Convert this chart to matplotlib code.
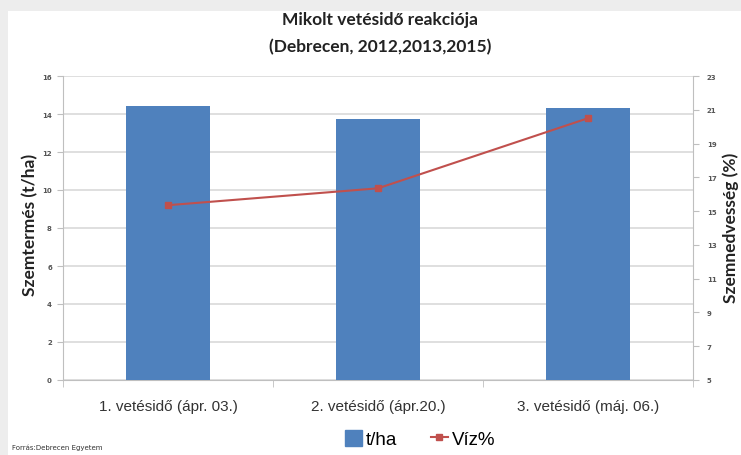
import matplotlib
matplotlib.use("Agg")
import matplotlib.pyplot as plt
from matplotlib.patches import Rectangle
from matplotlib.lines import Line2D
import numpy as np

categories = ["1. vetésidő (ápr. 03.)", "2. vetésidő (ápr.20.)", "3. vetésidő (máj. 06.)"]
yield_tha = [14.4, 13.75, 14.3]
moisture_pct = [15.35, 16.35, 20.5]
left_ticks = [0, 2, 4, 6, 8, 10, 12, 14, 16]
right_ticks = [5, 7, 9, 11, 13, 15, 17, 19, 21, 23]

BAR = "#4F81BD"
LINE = "#C0504D"
GRID = "#D9D9D9"
AX = "#BFBFBF"

fig = plt.figure(figsize=(7.41, 4.56), dpi=100)
fig.patch.set_facecolor("#EDEDED")
fig.patches.append(Rectangle((8/741, 0), 1, 1 - 12/456, transform=fig.transFigure,
                             facecolor="white", edgecolor="none", zorder=-10))

ax = fig.add_axes([63/741, 75/456, 630/741, 304/456])
x = np.arange(len(categories))
ax.bar(x, yield_tha, width=0.4, color=BAR, zorder=3)
ax.set_xlim(-0.5, 2.5)
ax.set_ylim(0, 16)
ax.set_yticks(left_ticks)
ax.set_yticklabels([str(t) for t in left_ticks], fontsize=5, color="#555555", fontweight="bold")
ax.yaxis.grid(True, color=GRID, linewidth=1.2, zorder=0)
ax.set_axisbelow(True)
for s in ["top", "right"]:
    ax.spines[s].set_visible(False)
ax.spines["left"].set_color(AX)
ax.spines["bottom"].set_color(AX)
ax.tick_params(axis="y", length=4, color=AX, pad=4)
ax.set_xticks(x)
ax.set_xticklabels(categories, fontsize=11, family="Liberation Sans", color="#333333")
ax.tick_params(axis="x", length=0, pad=14)
ax.set_xticks([-0.5, 0.5, 1.5, 2.5], minor=True)
ax.tick_params(axis="x", which="minor", length=5, color=AX)

ax2 = ax.twinx()
ax2.plot(x, moisture_pct, color=LINE, marker="s", markersize=5, linewidth=1.5, zorder=4)
ax2.set_ylim(5, 23)
ax2.set_yticks(right_ticks)
ax2.set_yticklabels([str(t) for t in right_ticks], fontsize=5, color="#555555", fontweight="bold")
for s in ["top", "left", "bottom"]:
    ax2.spines[s].set_visible(False)
ax2.spines["right"].set_color(AX)
ax2.tick_params(axis="y", length=4, color=AX, pad=6)

fig.text(30/741, 1 - 225/456, "Szemtermés (t/ha)", rotation=90, ha="center", va="center",
         fontsize=12.5, fontweight="bold", family="Lato", color="#222222")
fig.text(731/741, 1 - 228/456, "Szemnedvesség (%)", rotation=90, ha="center", va="center",
         fontsize=12.5, fontweight="bold", family="Lato", color="#222222")

fig.text(380/741, 1 - 20/456, "Mikolt vetésidő reakciója", ha="center", va="center",
         fontsize=12.5, fontweight="bold", family="Lato", color="#222222")
fig.text(380/741, 1 - 47/456, "(Debrecen, 2012,2013,2015)", ha="center", va="center",
         fontsize=12.5, fontweight="bold", family="Lato", color="#222222")

handles = [Rectangle((0, 0), 1, 1, color=BAR),
           Line2D([0], [0], color=LINE, marker="s", markersize=4, linewidth=1.5)]
fig.legend(handles, ["t/ha", "Víz%"], loc="center", bbox_to_anchor=(420/741, 1 - 440/456),
           ncol=2, frameon=False, handlelength=0.9, handleheight=1.0, handletextpad=0.2,
           columnspacing=1.8, prop={"family": "Liberation Sans", "size": 13.5})

fig.text(12/741, 1 - 448/456, "Forrás:Debrecen Egyetem", ha="left", va="center",
         fontsize=5, color="#333333")

fig.savefig("out.png", dpi=100)
